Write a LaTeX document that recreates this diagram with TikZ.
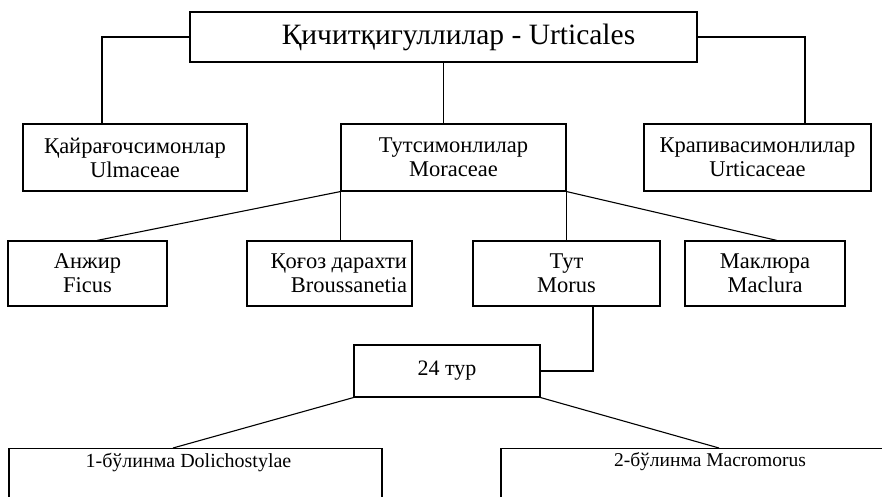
\documentclass[tikz,border=0pt]{standalone}
\usepackage{fontspec}
\setmainfont{Liberation Serif}
\begin{document}
\begin{tikzpicture}[x=1pt,y=-1pt,
  box/.style={draw, line width=1.1pt, inner sep=0pt, align=center,
    font=\fontsize{22.5}{24}\selectfont},
  conn/.style={line width=1.1pt}]
\clip (0,0) rectangle (882,497);
\fill[white] (0,0) rectangle (882,497);
% top
\node[box, minimum width=507pt, minimum height=50pt, font=\fontsize{29.5}{31}\selectfont] (top) at (443.5,37) {\hspace*{30pt}Қичитқигуллилар - Urticales};
% level 2
\node[box, minimum width=224pt, minimum height=67pt] (ulm) at (135,157.5) {Қайрағочсимонлар\\Ulmaceae};
\node[box, minimum width=225pt, minimum height=67pt] (mor) at (453.5,157.5) {Тутсимонлилар\\Moraceae};
\node[box, minimum width=227pt, minimum height=67pt] (urt) at (757.5,157.5) {Крапивасимонлилар\\Urticaceae};
% level 3
\node[box, minimum width=159pt, minimum height=65pt] (fic) at (87.5,273.5) {Анжир\\Ficus};
\node[box, minimum width=165pt, minimum height=65pt, inner xsep=5pt, text width=155pt, align=flush right] (bro) at (329.5,273.5) {Қоғоз дарахти\\Broussanetia};
\node[box, minimum width=187pt, minimum height=65pt] (tut) at (566.5,273.5) {Тут\\Morus};
\node[box, minimum width=160pt, minimum height=65pt] (mac) at (765,273.5) {Маклюра\\Maclura};
% 24 tur
\node[box, minimum width=186pt, minimum height=52pt, font=\fontsize{22}{24}\selectfont] (tur) at (447,371) {24 тур};
% bottom boxes (open at the bottom edge of the picture)
\node[box, minimum width=373pt, minimum height=120pt, anchor=north] (d1) at (195.5,448) {};
\node[font=\fontsize{20}{22}\selectfont] (d1t) at ([yshift=-14pt,xshift=-7pt]d1.north) {1-бўлинма Dolichostylae};
\node[box, minimum width=400pt, minimum height=120pt, anchor=north] (d2) at (701,448) {};
\node[font=\fontsize{19.5}{22}\selectfont] (d2t) at ([yshift=-14pt,xshift=9pt]d2.north) {2-бўлинма Macromorus};
% helper x positions
\coordinate (lx) at (102,0);
\coordinate (rx) at (805,0);
\coordinate (fx) at (97,0);
\coordinate (mx) at (777,0);
\coordinate (tx) at (593,0);
\coordinate (ax) at (173,0);
\coordinate (bx) at (719,0);
% connectors
\draw[conn] (top.west) -| (ulm.north -| lx);
\draw[conn] (top.east) -| (urt.north -| rx);
\draw[conn] (top.south) -- (top.south |- mor.north);
\draw[conn] (mor.south west) -- (fic.north -| fx);
\draw[conn] (mor.south west) -- (mor.south west |- bro.north);
\draw[conn] (mor.south east) -- (mor.south east |- tut.north);
\draw[conn] (mor.south east) -- (mac.north -| mx);
\draw[conn] (tut.south -| tx) |- (tur.east);
\draw[conn] (tur.south west) -- (d1.north -| ax);
\draw[conn] (tur.south east) -- (d2.north -| bx);
\end{tikzpicture}
\end{document}
